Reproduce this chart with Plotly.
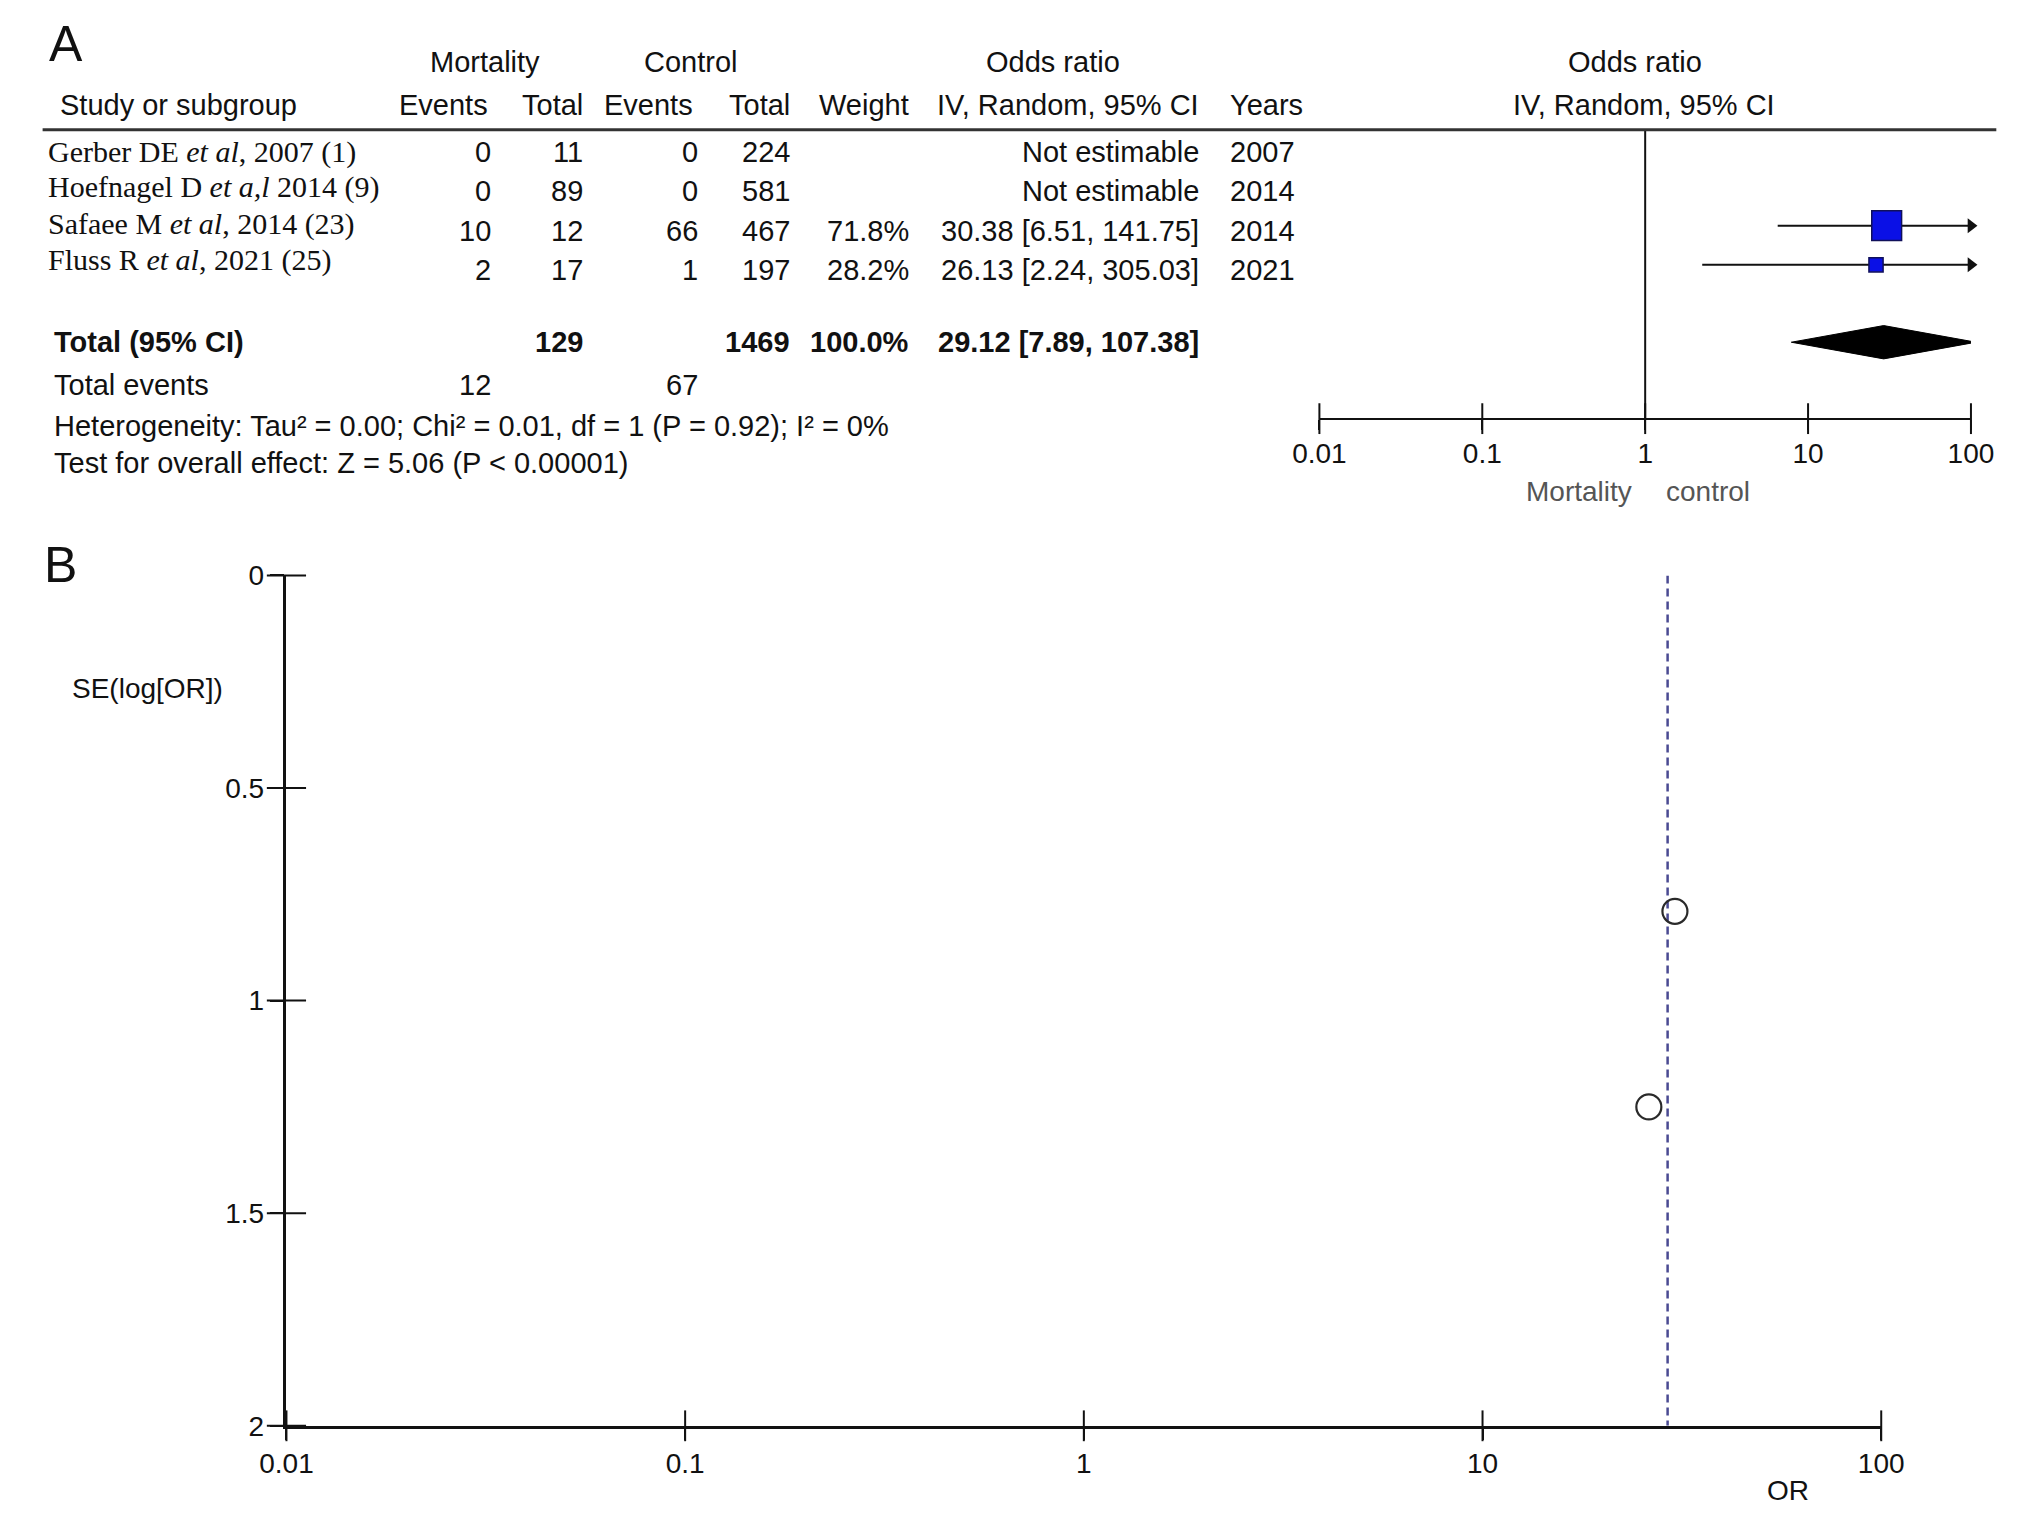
import plotly.graph_objects as go
import numpy as np

# ---------------- data ----------------
studies = [
    "Gerber DE <i>et al</i>, 2007 (1)",
    "Hoefnagel D <i>et a,l</i> 2014 (9)",
    "Safaee M <i>et al</i>, 2014 (23)",
    "Fluss R <i>et al</i>, 2021 (25)",
]
mort_events = [0, 0, 10, 2]
mort_total = [11, 89, 12, 17]
ctrl_events = [0, 0, 66, 1]
ctrl_total = [224, 581, 467, 197]
weights = [None, None, 71.8, 28.2]
or_est = [None, None, 30.38, 26.13]
ci_low = [None, None, 6.51, 2.24]
ci_high = [None, None, 141.75, 305.03]
years = [2007, 2014, 2014, 2021]

total_mort = 129
total_ctrl = 1469
total_weight = 100.0
pooled_or = 29.12
pooled_low = 7.89
pooled_high = 107.38
events_mort = 12
events_ctrl = 67
heterogeneity = "Heterogeneity: Tau² = 0.00; Chi² = 0.01, df = 1 (P = 0.92); I² = 0%"
overall = "Test for overall effect: Z = 5.06 (P &lt; 0.00001)"

or_ticks = [0.01, 0.1, 1, 10, 100]
or_tick_labels = ["0.01", "0.1", "1", "10", "100"]
se_ticks = [0, 0.5, 1, 1.5, 2]
se_tick_labels = ["0", "0.5", "1", "1.5", "2"]
funnel_or = [30.38, 26.13]
funnel_se = [0.79, 1.25]

# ---------------- layout helpers ----------------
W, H = 2032, 1529
SANS = "Liberation Sans, Arial, sans-serif"
SERIF = "Liberation Serif, Times New Roman, serif"
FS = 29


def px(x):
    return x / W


def py(y):
    return 1 - y / H


def row_of(ypix):
    # rows of panel A: row 0 at pixel 140, 40 px per row
    return (ypix - 140) / 40.0


fig = go.Figure()
ann = []


def text(x, y, s, anchor="left", size=FS, font=SANS, color="#111", bold=False,
         yref="y", yshift=0):
    if bold:
        s = "<b>" + s + "</b>"
    ann.append(dict(x=px(x), y=y, xref="paper", yref=yref, text=s, showarrow=False,
                    xanchor=anchor, yanchor="middle", yshift=yshift,
                    font=dict(family=font, size=size, color=color)))


# column right edges (pixels)
C_EV1, C_TOT1, C_EV2, C_TOT2, C_W, C_OR, C_YR = 478, 572, 690, 784, 906, 1204, 1231

# header
h1 = row_of(48)
h2 = row_of(92)
text(470, h1, "Mortality", "center")
text(681, h1, "Control", "center")
text(1052, h1, "Odds ratio", "center")
text(1649, h1, "Odds ratio", "center")
text(32, h2, "Study or subgroup", "left")
text(C_EV1 - 3, h2, "Events", "right")
text(C_TOT1, h2, "Total", "right")
text(C_EV2 - 5, h2, "Events", "right")
text(C_TOT2, h2, "Total", "right")
text(C_W, h2, "Weight", "right")
text(C_OR, h2, "IV, Random, 95% CI", "right")
text(C_YR, h2, "Years", "left")
text(1658, h2, "IV, Random, 95% CI", "center")

name_shift = [0, 4, 7, 10]
for i in range(len(studies)):
    text(19, i, studies[i], "left", size=30, font=SERIF, yshift=name_shift[i])
    text(C_EV1, i, str(mort_events[i]), "right")
    text(C_TOT1, i, str(mort_total[i]), "right")
    text(C_EV2, i, str(ctrl_events[i]), "right")
    text(C_TOT2, i, str(ctrl_total[i]), "right")
    if weights[i] is not None:
        text(C_W, i, f"{weights[i]:.1f}%", "right")
        text(C_OR, i, f"{or_est[i]:.2f} [{ci_low[i]:.2f}, {ci_high[i]:.2f}]", "right")
    else:
        text(C_OR, i, "Not estimable", "right")
    text(C_YR, i, str(years[i]), "left")

r_tot = row_of(334)
text(26, r_tot, "Total (95% CI)", "left", bold=True)
text(C_TOT1, r_tot, str(total_mort), "right", bold=True)
text(C_TOT2, r_tot, str(total_ctrl), "right", bold=True)
text(C_W, r_tot, f"{total_weight:.1f}%", "right", bold=True)
text(C_OR, r_tot, f"{pooled_or:.2f} [{pooled_low:.2f}, {pooled_high:.2f}]", "right", bold=True)

r_ev = row_of(378)
text(26, r_ev, "Total events", "left")
text(C_EV1, r_ev, str(events_mort), "right")
text(C_EV2, r_ev, str(events_ctrl), "right")
text(26, row_of(419), heterogeneity, "left")
text(26, row_of(457), overall, "left")

r_lab = row_of(486)
text(1648, r_lab, "Mortality", "right", size=28, color="#555")
text(1678, r_lab, "control", "left", size=28, color="#555")

# panel letters
text(20, py(30), "A", "left", size=50, yref="paper")
text(15, py(561), "B", "left", size=50, yref="paper")
# funnel axis titles
text(124, py(687), "SE(log[OR])", "center", size=28, yref="paper")
text(1805, py(1506), "OR", "center", size=28, yref="paper")

# ---------------- forest plot (panel A) ----------------
r_axis = row_of(412)
r_head = row_of(117)
mark_off = -0.125

# line of no effect
fig.add_trace(go.Scatter(x=[1, 1], y=[r_head, r_axis], mode="lines",
                         line=dict(color="#111", width=2), xaxis="x", yaxis="y",
                         hoverinfo="skip", showlegend=False))

for i in range(len(studies)):
    if or_est[i] is None:
        continue
    yy = i + mark_off
    hi = min(ci_high[i], 100)
    fig.add_trace(go.Scatter(x=[ci_low[i], hi], y=[yy, yy], mode="lines",
                             line=dict(color="#111", width=2), xaxis="x", yaxis="y",
                             showlegend=False, hoverinfo="skip"))
    if ci_high[i] > 100:
        fig.add_trace(go.Scatter(x=[100], y=[yy], mode="markers", cliponaxis=False,
                                 marker=dict(symbol="triangle-right", size=13, color="#111"),
                                 xaxis="x", yaxis="y", showlegend=False, hoverinfo="skip"))
    fig.add_trace(go.Scatter(x=[or_est[i]], y=[yy], mode="markers", cliponaxis=False,
                             marker=dict(symbol="square", size=4 + 0.36 * weights[i],
                                         color="#0a10e6", line=dict(color="#10105a", width=1.5)),
                             xaxis="x", yaxis="y", showlegend=False, hoverinfo="skip"))

# pooled diamond
dh = 0.425
fig.add_trace(go.Scatter(x=[pooled_low, pooled_or, pooled_high, pooled_or, pooled_low],
                         y=[r_tot, r_tot - dh, r_tot, r_tot + dh, r_tot],
                         mode="lines", fill="toself", fillcolor="#000",
                         line=dict(color="#000", width=1), xaxis="x", yaxis="y",
                         showlegend=False, hoverinfo="skip"))

# crossing tick marks on forest axis
fig.add_trace(go.Scatter(x=or_ticks, y=[r_axis] * len(or_ticks), mode="markers",
                         cliponaxis=False,
                         marker=dict(symbol="line-ns", size=22, line=dict(color="#111", width=2)),
                         xaxis="x", yaxis="y", showlegend=False, hoverinfo="skip"))

# ---------------- funnel plot (panel B) ----------------
fig.add_trace(go.Scatter(x=[pooled_or, pooled_or], y=[se_ticks[0], se_ticks[-1]], mode="lines",
                         line=dict(color="#4a4a92", width=2.5, dash="8px,5px"),
                         xaxis="x2", yaxis="y2", showlegend=False, hoverinfo="skip"))
fig.add_trace(go.Scatter(x=funnel_or, y=funnel_se, mode="markers", cliponaxis=False,
                         marker=dict(symbol="circle-open", size=25, color="#2a2a2a",
                                     line=dict(color="#2a2a2a", width=2.2)),
                         xaxis="x2", yaxis="y2", showlegend=False, hoverinfo="skip"))
fig.add_trace(go.Scatter(x=or_ticks, y=[se_ticks[-1]] * len(or_ticks), mode="markers",
                         cliponaxis=False,
                         marker=dict(symbol="line-ns", size=22, line=dict(color="#111", width=2)),
                         xaxis="x2", yaxis="y2", showlegend=False, hoverinfo="skip"))
fig.add_trace(go.Scatter(x=[or_ticks[0]] * len(se_ticks), y=se_ticks, mode="markers",
                         cliponaxis=False,
                         marker=dict(symbol="line-ew", size=28, line=dict(color="#111", width=2)),
                         xaxis="x2", yaxis="y2", showlegend=False, hoverinfo="skip"))

# header rule
shapes = [dict(type="line", xref="paper", yref="y", x0=px(16), x1=px(2019),
               y0=r_head, y1=r_head, line=dict(color="#333", width=3))]

fig.update_layout(
    width=W, height=H,
    margin=dict(l=0, r=0, t=0, b=0),
    paper_bgcolor="white", plot_bgcolor="rgba(0,0,0,0)",
    showlegend=False,
    annotations=ann, shapes=shapes,
    xaxis=dict(type="log", range=[-2, 2], domain=[px(1325), px(1993)],
               anchor="free", position=py(412),
               showline=True, linecolor="#111", linewidth=2,
               ticks="outside", ticklen=10, tickwidth=2, tickcolor="#111",
               tickvals=or_ticks, ticktext=or_tick_labels,
               tickfont=dict(family=SANS, size=28, color="#111"),
               showgrid=False, zeroline=False, fixedrange=True),
    yaxis=dict(range=[9.5, -3.5], domain=[1 - 520 / H, 1], visible=False,
               showgrid=False, zeroline=False, fixedrange=True),
    xaxis2=dict(type="log", range=[-2, 2], domain=[px(266), px(1901)], anchor="y2",
                showline=True, linecolor="#111", linewidth=3,
                ticks="outside", ticklen=11, tickwidth=2, tickcolor="#111",
                tickvals=or_ticks, ticktext=or_tick_labels,
                tickfont=dict(family=SANS, size=28, color="#111"),
                showgrid=False, zeroline=False, fixedrange=True),
    yaxis2=dict(range=[2, 0], domain=[py(1440), py(572)], anchor="x2",
                showline=True, linecolor="#111", linewidth=2.5,
                ticks="outside", ticklen=14, tickwidth=2, tickcolor="#111",
                tickvals=se_ticks, ticktext=se_tick_labels,
                tickfont=dict(family=SANS, size=28, color="#111"),
                showgrid=False, zeroline=False, fixedrange=True),
)

fig.write_html("out.html", config={"displayModeBar": False},
               post_script="document.body.style.margin='0';")
